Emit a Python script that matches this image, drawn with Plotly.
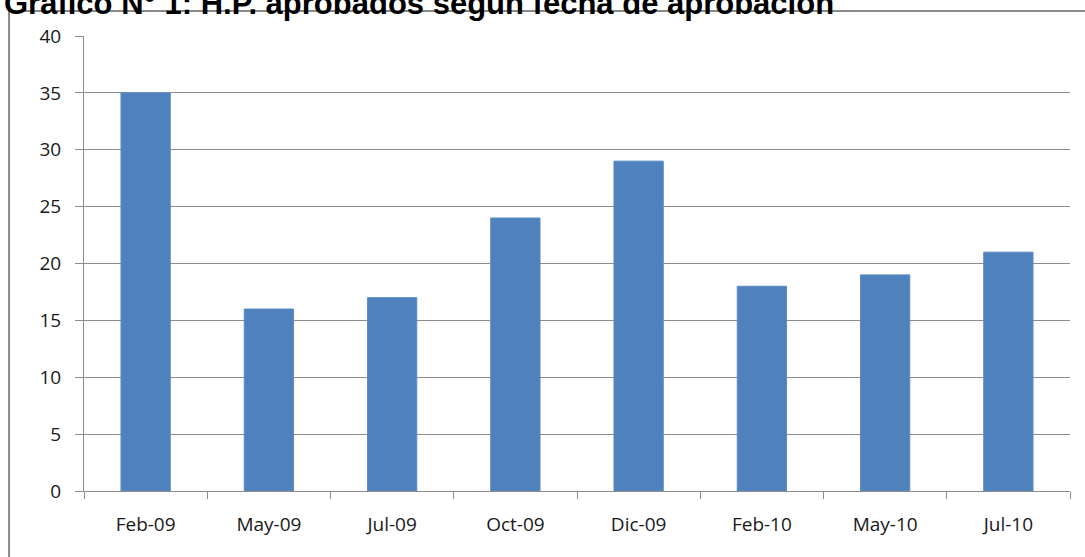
import plotly.graph_objects as go

meses = ["Feb-09", "May-09", "Jul-09", "Oct-09", "Dic-09", "Feb-10", "May-10", "Jul-10"]
aprobados = [35, 16, 17, 24, 29, 18, 19, 21]
titulo = "Gráfico N° 1: H.P. aprobados según fecha de aprobación"

fig = go.Figure(data=[go.Bar(x=meses,
                             y=aprobados,
                             width=0.4,
                             marker=dict(color="#4F81BD",
                                         line=dict(color="#5B8BC7", width=1))
                             )
                      ])

gris = "#8C8C8C"
fig.update_layout(
    width=1085, height=557,
    margin=dict(l=84, r=15, t=36, b=66),
    paper_bgcolor="white", plot_bgcolor="white",
    showlegend=False,
    bargap=0.6,
    font=dict(family="Open Sans", size=20, color="#1a1a1a"),
)
fig.update_xaxes(type="category", showline=True, linecolor=gris, linewidth=1,
                 ticks="outside", tickson="boundaries", ticklen=7, tickcolor=gris,
                 showgrid=False, tickfont=dict(family="Open Sans", size=19),
                 ticklabelstandoff=16)
fig.update_yaxes(range=[0, 40], dtick=5, showline=True, linecolor=gris, linewidth=1,
                 ticks="outside", ticklen=8, tickcolor=gris,
                 showgrid=True, gridcolor=gris, gridwidth=1, zeroline=False,
                 tickfont=dict(family="Open Sans", size=19), ticklabelstandoff=10)

# marco exterior del grafico
fig.add_shape(type="rect", xref="paper", yref="paper",
              x0=-0.076, x1=1.1, y0=-0.3, y1=1.055,
              line=dict(color="#8A8A8A", width=2), layer="below")

# titulo recortado en la parte superior (como en la imagen original)
fig.add_annotation(text="<b>" + titulo + "</b>", xref="paper", yref="paper",
                   x=-0.083, y=1.029, xanchor="left", yanchor="bottom",
                   showarrow=False,
                   font=dict(family="Liberation Sans", size=31, color="black"))

# sin margen del body para que la figura empiece en (0, 0)
fig.write_html("out.html", config={"displayModeBar": False},
               post_script="document.body.style.margin='0';")
